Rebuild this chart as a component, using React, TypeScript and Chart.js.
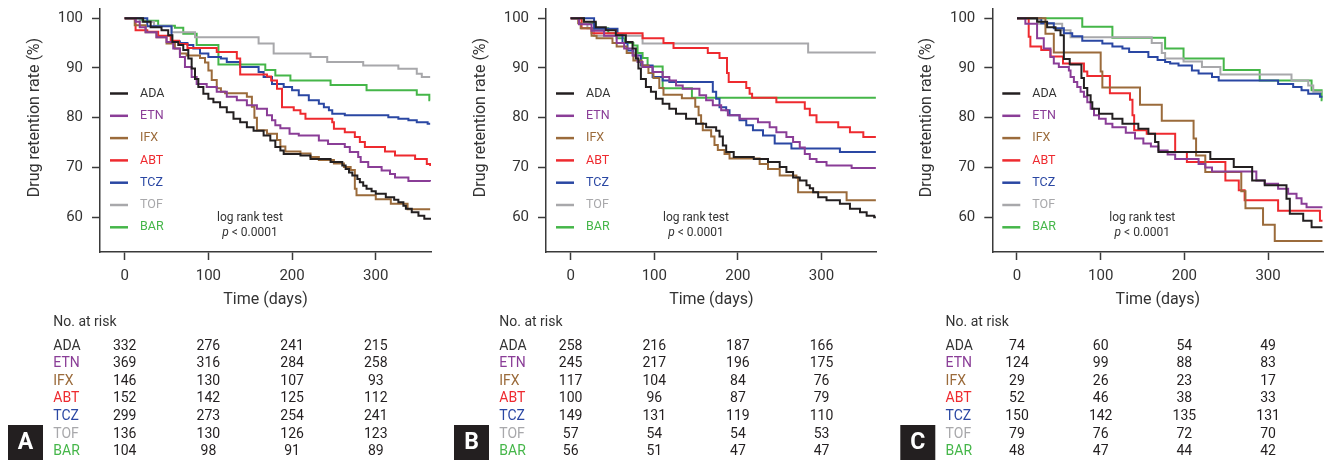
import { useEffect, useRef } from 'react';
import { Chart, registerables } from 'chart.js';

Chart.register(...registerables);

// ---------- data ----------
const drugNames = ['ADA', 'ETN', 'IFX', 'ABT', 'TCZ', 'TOF', 'BAR'];
const drugColors = ['#231f20', '#8a3d97', '#9b6b3b', '#ee2a2f', '#2a47a3', '#a8a8ab', '#45b649'];
const xTickValues = [0, 100, 200, 300];
const yTickValues = [60, 70, 80, 90, 100];
const panelLetters = ['A', 'B', 'C'];

// Panel A  [day, retention %]
const A_ADA = [[0,100],[22,99.3],[31,98.2],[44,97.6],[52,96.6],[57,95.2],[64,94.6],[70,93.6],[76,91.9],[80,89.9],[84,87.8],[88,86.2],[94,84.8],[100,83.8],[106,83.1],[114,82.1],[122,81.1],[130,79.8],[138,79.1],[146,78.1],[154,77.4],[166,76.4],[174,75.4],[180,74.1],[186,73.4],[190,72.7],[210,72.4],[222,71.7],[246,71.1],[260,70.4],[264,69.7],[268,69],[272,68.4],[278,67.7],[281,67.0],[285,66.3],[289,65.7],[295,65.2],[300,64.7],[312,64.0],[322,63.5],[327,63.0],[333,62.3],[336,61.7],[343,61.0],[351,60.3],[358,59.7],[365,59.5]];
const A_ETN = [[0,100],[13,99.3],[18,98.2],[25,97.2],[38,96.2],[50,95.2],[58,93.9],[66,92.2],[72,90.2],[80,88.2],[86,86.8],[98,86.2],[110,85.2],[122,84.2],[134,83.5],[146,82.5],[158,81.8],[170,80.5],[176,79.5],[180,78.5],[186,77.9],[197,76.8],[208,76.4],[232,75.4],[243,74.7],[263,74.1],[269,73.1],[279,72.1],[282,71.1],[291,70.1],[307,69.4],[317,68.7],[323,68.0],[339,67.3],[365,67.2]];
const A_IFX = [[0,100],[12,98.6],[25,97.2],[38,96.2],[50,94.9],[60,93.9],[66,92.9],[74,92.5],[90,92.0],[96,91.1],[100,89.5],[104,87.6],[110,85.9],[115,85.2],[120,84.9],[146,84.2],[152,82.2],[155,80],[158,77.5],[170,76.8],[182,75.5],[186,74.2],[192,73.2],[210,72.8],[222,72.1],[232,71.5],[250,70.8],[262,70.1],[270,69.5],[275,65.7],[277,64.4],[300,63.6],[318,62.7],[338,61.6],[365,61.6]];
const A_ABT = [[0,100],[13,97.6],[27,97.3],[40,96.5],[55,95.5],[65,94.8],[75,94],[110,93.2],[134,91.9],[138,88.7],[170,88.3],[175,87.5],[182,85.8],[188,82.1],[202,81.5],[210,80.8],[216,79.8],[248,79.1],[250,77.8],[263,77.1],[275,76.1],[281,75.1],[287,74.1],[311,73.2],[323,72.4],[347,71.7],[361,70.7],[365,70.3]];
const A_TCZ = [[0,100],[27,98.4],[56,95.3],[66,95],[75,94.6],[82,93.9],[90,92.9],[100,92.2],[115,91.9],[122,91.2],[138,90.2],[160,89.2],[166,88.2],[176,86.8],[190,86.2],[200,85.5],[208,84.5],[220,83.5],[232,82.8],[238,82.1],[244,81.5],[248,80.8],[263,80.5],[315,80.1],[327,79.8],[339,79.5],[349,79.1],[362,78.8],[365,78.8]];
const A_TOF = [[0,100],[18,99.3],[35,98.5],[56,97.2],[84,96.2],[160,94.9],[178,92.9],[222,92.2],[242,91.2],[285,90.5],[327,89.85],[349,88.85],[355,88.2],[365,88.2]];
const A_BAR = [[0,100],[20,99.5],[40,98.5],[60,98.1],[70,96.9],[86,94.6],[112,90.7],[168,89.6],[180,88.5],[198,87.5],[246,86.6],[289,85.5],[349,84.6],[364,83.5],[365,83.5]];

// Panel B
const B_ADA = [[0,100],[16,99.3],[30,98.2],[42,97.6],[54,96.6],[66,95.2],[74,93.9],[78,91.9],[81,89.9],[84,87.8],[90,86.2],[96,85.2],[102,83.8],[110,82.8],[118,81.8],[126,80.8],[138,79.8],[150,78.8],[162,78.1],[174,77.4],[178,76.2],[182,74.4],[186,73.1],[195,72.1],[219,71.7],[236,71.1],[250,70.1],[258,69.1],[266,68],[274,67.4],[282,66.4],[286,65.8],[290,65],[296,64],[306,63.4],[322,62.7],[334,61.7],[346,61.0],[354,60.3],[363,60],[365,60]];
const B_ETN = [[0,100],[10,98.8],[25,97.5],[40,96.5],[55,95],[64,93.9],[74,92.5],[80,91.2],[86,90.2],[98,89.2],[110,88.2],[118,87.5],[126,86.5],[134,85.8],[154,84.5],[162,83.5],[170,82.5],[180,81.5],[188,80.5],[202,79.8],[224,79.1],[238,78.1],[246,77.1],[258,76.1],[266,75.1],[274,74],[280,72.7],[286,71.7],[294,71.1],[306,70.4],[336,69.9],[365,69.9]];
const B_IFX = [[0,100],[9,99],[12,98],[25,96.5],[31,96],[50,95],[55,94.3],[67,93],[75,91.5],[85,90.5],[93,89],[99,88],[106,86],[111,84.6],[133,83.9],[149,82.2],[153,80.5],[156,78.9],[158,77.5],[168,76.2],[172,74.5],[176,73.5],[184,72.7],[190,71.8],[226,70.7],[236,69.7],[250,68.4],[270,68],[272,65],[330,63.4],[365,63.4]];
const B_ABT = [[0,100],[13,98],[25,97],[86,96],[111,95],[123,94],[164,93],[178,92],[187,89],[189,87.2],[210,86],[214,84.8],[217,84],[246,83.1],[280,81.8],[286,80.5],[294,79.1],[320,78.1],[334,77.1],[350,76.1],[365,76.1]];
const B_TCZ = [[0,100],[28,97.9],[56,96.6],[62,95],[68,93.5],[75,92.5],[84,90.5],[98,88.2],[110,87.5],[118,87.2],[170,85.2],[174,83.8],[178,82.1],[186,81.5],[190,80.5],[202,79.5],[210,78.5],[218,77.5],[230,76.4],[244,74.8],[264,73.8],[322,73.1],[365,73.1]];
const B_TOF = [[0,100],[10,99],[20,98],[28,96.5],[86,94.9],[284,93.1],[365,93.1]];
const B_BAR = [[0,100],[15,99],[30,98],[45,97],[55,96],[65,95],[75,94.5],[80,93],[86,92],[92,90.3],[110,85.9],[145,84],[365,84]];

// Panel C
const C_ADA = [[0,100],[24,99.3],[36,98.2],[46,97.6],[52,96.6],[56,91.8],[63,90.7],[77,88],[80,86],[84,84.5],[88,83.1],[90,81.8],[98,80.8],[114,79.8],[126,78.8],[145,77.8],[157,76.8],[165,75.1],[169,73.1],[231,71.7],[259,70.1],[281,67.4],[296,66.4],[322,63.7],[326,60.7],[342,59.3],[352,58],[365,58]];
const C_ETN = [[0,100],[10,98.9],[24,96],[32,93.9],[40,92.2],[44,90.9],[50,90.2],[62,89.5],[64,88.2],[68,87.2],[72,86.2],[76,85.2],[80,84.2],[84,83.1],[88,81.8],[92,80.5],[98,79.8],[106,78.8],[114,78.1],[130,77],[141,75.8],[151,74.8],[160,74.2],[169,73.4],[180,72.6],[189,71.7],[217,70.7],[225,70],[233,69.2],[286,67.4],[296,66.7],[312,65.7],[324,64.7],[334,63.8],[340,62.7],[346,62],[365,62]];
const C_IFX = [[0,100],[34,96.9],[44,93.1],[100,89.3],[102,86.1],[147,82.6],[173,79.4],[211,75.8],[214,72.4],[225,69.1],[268,65.2],[273,61.8],[294,58.5],[308,55.2],[365,55.2]];
const C_ABT = [[0,100],[14,96.3],[16,94.3],[29,93.6],[40,92.3],[55,90.9],[80,89.3],[84,88.4],[111,84.9],[135,83.6],[138,80.5],[140,77.5],[155,76.8],[189,73.1],[203,71.1],[249,67.4],[265,65.4],[272,63.4],[312,61.3],[362,59.3],[365,59.3]];
const C_TCZ = [[0,100],[29,99],[44,98],[56,97],[66,96.4],[78,95.5],[102,94.9],[114,94.3],[126,93.9],[134,93.2],[157,92.2],[168,91.6],[177,91.2],[183,90.9],[193,90.5],[209,89.5],[217,88.9],[233,88.2],[241,87.5],[312,86.8],[330,86.2],[340,85.5],[348,84.8],[362,84.2],[365,84.2]];
const C_TOF = [[0,100],[26,98.9],[54,97.6],[64,96.2],[161,95],[173,93],[177,91.9],[199,91.3],[221,90.2],[243,88.7],[328,87.5],[348,86.5],[354,85.2],[365,85.2]];
const C_BAR = [[0,100],[78,98.3],[114,96.1],[177,93.9],[199,91.9],[247,89.6],[290,87.5],[352,85.5],[364,83.5],[365,83.5]];

// No. at risk (per drug, at 0/100/200/300 days)
const riskA = [[332,276,241,215],[369,316,284,258],[146,130,107,93],[152,142,125,112],[299,273,254,241],[136,130,126,123],[104,98,91,89]];
const riskB = [[258,216,187,166],[245,217,196,175],[117,104,84,76],[100,96,87,79],[149,131,119,110],[57,54,54,53],[56,51,47,47]];
const riskC = [[74,60,54,49],[124,99,88,83],[29,26,23,17],[52,46,38,33],[150,142,135,131],[79,76,72,70],[48,47,44,42]];

const panelSeries = [
  [A_ADA, A_ETN, A_IFX, A_ABT, A_TCZ, A_TOF, A_BAR],
  [B_ADA, B_ETN, B_IFX, B_ABT, B_TCZ, B_TOF, B_BAR],
  [C_ADA, C_ETN, C_IFX, C_ABT, C_TCZ, C_TOF, C_BAR],
];
const panelRisk = [riskA, riskB, riskC];

// ---------- layout ----------
const H = 462;
const panelLayout = [
  { left: 0, w: 445, yW: 100, rightPad: 14 },
  { left: 445, w: 445, yW: 101, rightPad: 13.3 },
  { left: 890, w: 435, yW: 102.3, rightPad: 1.7 },
];
const FONT = 'Roboto, "Noto Sans", sans-serif';
const AXIS = '#3a3a3a';
const TEXT = '#333333';

function makeOverlay(idx: number) {
  return {
    id: 'overlay' + idx,
    afterDraw(chart: any) {
      const { ctx, chartArea, scales } = chart;
      const L = chartArea.left;
      const xs = scales.x;
      ctx.save();
      // y axis title
      ctx.save();
      ctx.fillStyle = TEXT;
      ctx.font = `16px ${FONT}`;
      ctx.translate(L - 65.5, 117.5);
      ctx.rotate(-Math.PI / 2);
      ctx.textAlign = 'center';
      ctx.textBaseline = 'middle';
      ctx.fillText('Drug retention rate (%)', 0, 0);
      ctx.restore();

      // legend
      ctx.textBaseline = 'middle';
      ctx.textAlign = 'left';
      ctx.font = `12.5px ${FONT}`;
      drugNames.forEach((name, i) => {
        const y = 93.5 + i * 22.3;
        ctx.strokeStyle = drugColors[i];
        ctx.lineWidth = 2.5;
        ctx.beginPath();
        ctx.moveTo(L + 10, y);
        ctx.lineTo(L + 28, y);
        ctx.stroke();
        ctx.fillStyle = i === 0 ? TEXT : drugColors[i];
        ctx.fillText(name, L + 40, y);
      });

      // log rank text
      const cx = L + 150;
      ctx.fillStyle = TEXT;
      ctx.textAlign = 'center';
      ctx.font = `12px ${FONT}`;
      ctx.fillText('log rank test', cx, 217.7);
      ctx.font = `italic 12px ${FONT}`;
      const wp = ctx.measureText('p').width;
      ctx.font = `12px ${FONT}`;
      const rest = ' < 0.0001';
      const wr = ctx.measureText(rest).width;
      const sx = cx - (wp + wr) / 2;
      ctx.textAlign = 'left';
      ctx.font = `italic 12px ${FONT}`;
      ctx.fillText('p', sx, 233.3);
      ctx.font = `12px ${FONT}`;
      ctx.fillText(rest, sx + wp, 233.3);

      // risk table
      ctx.font = `14px ${FONT}`;
      ctx.textAlign = 'left';
      ctx.fillStyle = TEXT;
      ctx.fillText('No. at risk', L - 46.7, 322.3);
      const risk = panelRisk[idx];
      drugNames.forEach((name, i) => {
        const y = 346 + i * 17.6;
        ctx.textAlign = 'left';
        ctx.fillStyle = i === 0 ? TEXT : drugColors[i];
        ctx.fillText(name, L - 46.7, y);
        ctx.textAlign = 'center';
        ctx.fillStyle = '#231f20';
        risk[i].forEach((v, j) => {
          ctx.fillText(String(v), xs.getPixelForValue(xTickValues[j]), y);
        });
      });

      // panel letter box
      ctx.fillStyle = '#231f20';
      ctx.fillRect(L - 92, 425, 35, 35);
      ctx.fillStyle = '#ffffff';
      ctx.font = `bold 23px ${FONT}`;
      ctx.textAlign = 'center';
      ctx.textBaseline = 'middle';
      ctx.fillText(panelLetters[idx], L - 74.5, 443.5);
      ctx.restore();
    },
  };
}

function KMPanel({ idx }: { idx: number }) {
  const ref = useRef<HTMLCanvasElement>(null);
  const lay = panelLayout[idx];
  useEffect(() => {
    if (!ref.current) return;
    const datasets = panelSeries[idx].map((pts, i) => ({
      label: drugNames[i],
      data: pts.map(([x, y]) => ({ x, y })),
      borderColor: drugColors[i],
      backgroundColor: drugColors[i],
      borderWidth: 2,
      pointRadius: 0,
      stepped: true as const,
      fill: false,
      tension: 0,
    }));
    const chart = new Chart(ref.current, {
      type: 'line',
      data: { datasets },
      options: {
        animation: false,
        responsive: false,
        maintainAspectRatio: false,
        events: [],
        layout: { padding: { left: 0, right: lay.rightPad, top: 8.3, bottom: 152 } },
        plugins: { legend: { display: false }, tooltip: { enabled: false } },
        scales: {
          x: {
            type: 'linear',
            min: -29.5,
            max: 366,
            afterBuildTicks: (s: any) => {
              s.ticks = xTickValues.map((v) => ({ value: v }));
            },
            afterFit: (s: any) => {
              s.height = 58;
              s.paddingLeft = 0;
              s.paddingRight = 0;
            },
            grid: {
              display: true,
              drawOnChartArea: false,
              drawTicks: true,
              tickLength: 8,
              tickWidth: 1.5,
              tickColor: AXIS,
            },
            border: { display: true, color: AXIS, width: 1.5 },
            ticks: {
              font: { family: FONT, size: 15 },
              color: TEXT,
              padding: 7,
              maxRotation: 0,
              autoSkip: false,
            },
            title: {
              display: true,
              text: 'Time (days)',
              font: { family: FONT, size: 16 },
              color: TEXT,
              padding: { top: 0, bottom: 0 },
            },
          },
          y: {
            type: 'linear',
            min: 53,
            max: 102,
            afterBuildTicks: (s: any) => {
              s.ticks = yTickValues.map((v) => ({ value: v }));
            },
            afterFit: (s: any) => {
              s.width = lay.yW;
              s.paddingTop = 0;
              s.paddingBottom = 0;
            },
            grid: {
              display: true,
              drawOnChartArea: false,
              drawTicks: true,
              tickLength: 8,
              tickWidth: 1.5,
              tickColor: AXIS,
            },
            border: { display: true, color: AXIS, width: 1.5 },
            ticks: {
              font: { family: FONT, size: 15, lineHeight: 1 },
              color: TEXT,
              padding: 9,
            },
            title: { display: false },
          },
        },
      },
      plugins: [makeOverlay(idx)],
    } as any);
    return () => chart.destroy();
  }, [idx]);
  return (
    <canvas
      ref={ref}
      width={lay.w}
      height={H}
      style={{ position: 'absolute', left: lay.left, top: 0, width: lay.w, height: H, display: 'block' }}
    />
  );
}

export default function App() {
  return (
    <div
      style={{
        position: 'absolute',
        left: 0,
        top: 0,
        width: 1325,
        height: H,
        background: '#ffffff',
        overflow: 'hidden',
      }}
    >
      {[0, 1, 2].map((i) => (
        <KMPanel key={i} idx={i} />
      ))}
    </div>
  );
}
